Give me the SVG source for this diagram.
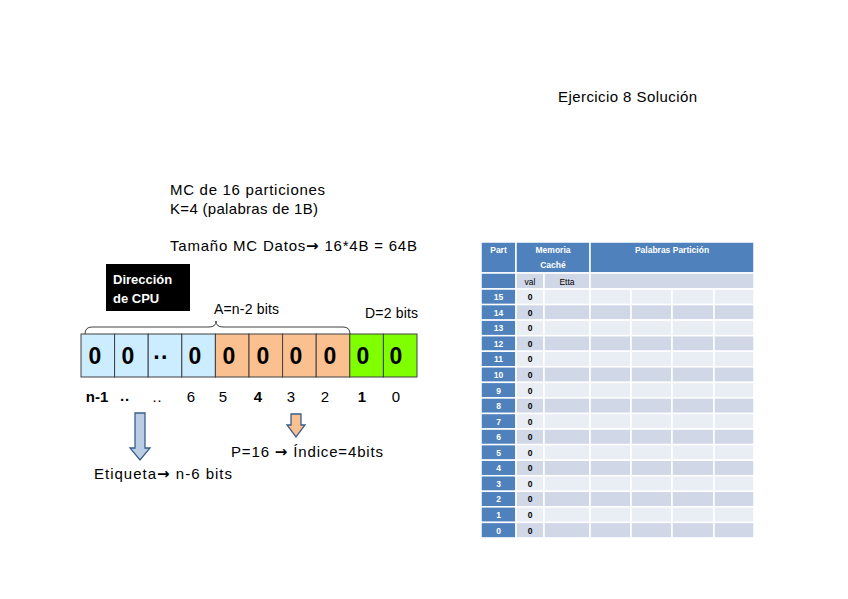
<svg xmlns="http://www.w3.org/2000/svg" xmlns:xlink="http://www.w3.org/1999/xlink" width="848" height="599" viewBox="0 0 848 599">
<style>
text{font-family:"Liberation Sans",Arial,sans-serif;fill:#000}
.t15{font-size:15px}
.t14{font-size:14px}
.b{font-weight:bold}
.arr{font-family:"DejaVu Sans",sans-serif;font-weight:bold}
.dig{font-size:23px;font-weight:bold;text-anchor:middle}
.bit{font-size:15px;text-anchor:middle}
.box{stroke:#404040;stroke-width:1}
.blue{fill:#CCECFF}
.org{fill:#FAC090}
.grn{fill:#80FF00}
.hd{fill:#4F81BD;stroke:#fff;stroke-width:1.5}
.L{fill:#E9EDF4;stroke:#fff;stroke-width:1.5}
.D{fill:#D0D8E8;stroke:#fff;stroke-width:1.5}
.ht{font-size:8.5px;font-weight:bold;fill:#fff;text-anchor:middle}
.rl{font-size:8.5px;font-weight:bold;fill:#fff;text-anchor:middle}
.rv{font-size:8.5px;font-weight:bold;text-anchor:middle}
.sh{font-size:8.5px;text-anchor:middle}
</style>
<defs>
<g id="rowL">
<rect class="hd" x="481" y="0" width="35" height="15.56"/>
<rect class="L" x="516" y="0" width="28" height="15.56"/>
<rect class="L" x="544" y="0" width="46" height="15.56"/>
<rect class="L" x="590" y="0" width="41" height="15.56"/>
<rect class="L" x="631" y="0" width="41" height="15.56"/>
<rect class="L" x="672" y="0" width="42" height="15.56"/>
<rect class="L" x="714" y="0" width="40" height="15.56"/>
</g>
<g id="rowD">
<rect class="hd" x="481" y="0" width="35" height="15.56"/>
<rect class="D" x="516" y="0" width="28" height="15.56"/>
<rect class="D" x="544" y="0" width="46" height="15.56"/>
<rect class="D" x="590" y="0" width="41" height="15.56"/>
<rect class="D" x="631" y="0" width="41" height="15.56"/>
<rect class="D" x="672" y="0" width="42" height="15.56"/>
<rect class="D" x="714" y="0" width="40" height="15.56"/>
</g>
</defs>
<rect width="848" height="599" fill="#fff"/>

<g id="title"><text class="t15" x="558" y="102" textLength="139">Ejercicio 8 Solución</text></g>

<g id="info">
<text class="t15" x="170" y="195" textLength="155">MC de 16 particiones</text>
<text class="t15" x="170" y="214" textLength="148">K=4 (palabras de 1B)</text>
<text class="t15" x="170" y="251" textLength="247">Tamaño MC Datos<tspan class="arr">→</tspan> 16*4B = 64B</text>
</g>

<g id="cpu-label">
<rect x="106" y="264" width="84" height="47" fill="#000"/>
<text class="b" x="113" y="284" style="font-size:13px;fill:#fff">Dirección</text>
<text class="b" x="113" y="303" style="font-size:13px;fill:#fff">de CPU</text>
</g>

<g id="brace-labels">
<path d="M85,334 Q85,327 92,327 L209,327 Q216,327 216,321 Q216,327 223,327 L343,327 Q350,327 350,334" fill="none" stroke="#404040" stroke-width="1"/>
<text class="t14" x="214" y="314" textLength="65">A=n-2 bits</text>
<text class="t14" x="365" y="318" textLength="53">D=2 bits</text>
</g>

<g id="address">
<rect class="box blue" x="81" y="334" width="33.6" height="43"/>
<rect class="box blue" x="114.6" y="334" width="33.6" height="43"/>
<rect class="box blue" x="148.2" y="334" width="33.6" height="43"/>
<rect class="box blue" x="181.8" y="334" width="33.6" height="43"/>
<rect class="box org" x="215.4" y="334" width="33.6" height="43"/>
<rect class="box org" x="249" y="334" width="33.6" height="43"/>
<rect class="box org" x="282.6" y="334" width="33.6" height="43"/>
<rect class="box org" x="316.2" y="334" width="33.6" height="43"/>
<rect class="box grn" x="349.8" y="334" width="33.6" height="43"/>
<rect class="box grn" x="383.4" y="334" width="33.6" height="43"/>
<text class="dig" x="95" y="364">0</text>
<text class="dig" x="128" y="364">0</text>
<text class="dig" x="161" y="365">··</text>
<text class="dig" x="195" y="364">0</text>
<text class="dig" x="229" y="364">0</text>
<text class="dig" x="263" y="364">0</text>
<text class="dig" x="296" y="364">0</text>
<text class="dig" x="330" y="364">0</text>
<text class="dig" x="363" y="364">0</text>
<text class="dig" x="396" y="364">0</text>
</g>

<g id="bits">
<text class="bit b" x="97" y="402">n-1</text>
<text class="bit b" x="125" y="405">··</text>
<text class="bit" x="157" y="405">··</text>
<text class="bit" x="191" y="402">6</text>
<text class="bit" x="223" y="402">5</text>
<text class="bit b" x="258" y="402">4</text>
<text class="bit" x="291" y="402">3</text>
<text class="bit" x="325" y="402">2</text>
<text class="bit b" x="362" y="402">1</text>
<text class="bit" x="396" y="402">0</text>
</g>

<g id="connectors">
<path d="M135,413 L145,413 L145,448 L150,448 L140,460 L130,448 L135,448 Z" fill="#B9CDE5" stroke="#385D8A" stroke-width="1.3"/>
<path d="M291,414 L301,414 L301,425 L305,425 L296,437 L287,425 L291,425 Z" fill="#FAC090" stroke="#385D8A" stroke-width="1.3"/>
</g>

<g id="tag-label"><text class="t15" x="94" y="479" textLength="138">Etiqueta<tspan class="arr">→</tspan> n-6 bits</text></g>
<g id="index-label"><text class="t15" x="231" y="457" textLength="152">P=16 <tspan class="arr">→</tspan> Índice=4bits</text></g>

<g id="cache-table">
<g id="table-header">
<rect class="hd" x="481" y="242" width="35" height="31"/>
<rect class="hd" x="516" y="242" width="74" height="31"/>
<rect class="hd" x="590" y="242" width="164" height="31"/>
<text class="ht" x="498.5" y="253">Part</text>
<text class="ht" x="553" y="253">Memoria</text>
<text class="ht" x="553" y="268">Caché</text>
<text class="ht" x="672" y="253">Palabras Partición</text>
<rect class="hd" x="481" y="273" width="35" height="16"/>
<rect class="D" x="516" y="273" width="28" height="16"/>
<rect class="D" x="544" y="273" width="46" height="16"/>
<rect class="D" x="590" y="273" width="164" height="16"/>
<text class="sh" x="530" y="284.5">val</text>
<text class="sh" x="567" y="284.5">Etta</text>
</g>
<g id="row15" transform="translate(0,289)"><use xlink:href="#rowL"/><text class="rl" x="498.5" y="11.2">15</text><text class="rv" x="530" y="11.2">0</text></g>
<g id="row14" transform="translate(0,304.56)"><use xlink:href="#rowD"/><text class="rl" x="498.5" y="11.2">14</text><text class="rv" x="530" y="11.2">0</text></g>
<g id="row13" transform="translate(0,320.12)"><use xlink:href="#rowL"/><text class="rl" x="498.5" y="11.2">13</text><text class="rv" x="530" y="11.2">0</text></g>
<g id="row12" transform="translate(0,335.68)"><use xlink:href="#rowD"/><text class="rl" x="498.5" y="11.2">12</text><text class="rv" x="530" y="11.2">0</text></g>
<g id="row11" transform="translate(0,351.24)"><use xlink:href="#rowL"/><text class="rl" x="498.5" y="11.2">11</text><text class="rv" x="530" y="11.2">0</text></g>
<g id="row10" transform="translate(0,366.8)"><use xlink:href="#rowD"/><text class="rl" x="498.5" y="11.2">10</text><text class="rv" x="530" y="11.2">0</text></g>
<g id="row9" transform="translate(0,382.36)"><use xlink:href="#rowL"/><text class="rl" x="498.5" y="11.2">9</text><text class="rv" x="530" y="11.2">0</text></g>
<g id="row8" transform="translate(0,397.92)"><use xlink:href="#rowD"/><text class="rl" x="498.5" y="11.2">8</text><text class="rv" x="530" y="11.2">0</text></g>
<g id="row7" transform="translate(0,413.48)"><use xlink:href="#rowL"/><text class="rl" x="498.5" y="11.2">7</text><text class="rv" x="530" y="11.2">0</text></g>
<g id="row6" transform="translate(0,429.04)"><use xlink:href="#rowD"/><text class="rl" x="498.5" y="11.2">6</text><text class="rv" x="530" y="11.2">0</text></g>
<g id="row5" transform="translate(0,444.6)"><use xlink:href="#rowL"/><text class="rl" x="498.5" y="11.2">5</text><text class="rv" x="530" y="11.2">0</text></g>
<g id="row4" transform="translate(0,460.16)"><use xlink:href="#rowD"/><text class="rl" x="498.5" y="11.2">4</text><text class="rv" x="530" y="11.2">0</text></g>
<g id="row3" transform="translate(0,475.72)"><use xlink:href="#rowL"/><text class="rl" x="498.5" y="11.2">3</text><text class="rv" x="530" y="11.2">0</text></g>
<g id="row2" transform="translate(0,491.28)"><use xlink:href="#rowD"/><text class="rl" x="498.5" y="11.2">2</text><text class="rv" x="530" y="11.2">0</text></g>
<g id="row1" transform="translate(0,506.84)"><use xlink:href="#rowL"/><text class="rl" x="498.5" y="11.2">1</text><text class="rv" x="530" y="11.2">0</text></g>
<g id="row0" transform="translate(0,522.4)"><use xlink:href="#rowD"/><text class="rl" x="498.5" y="11.2">0</text><text class="rv" x="530" y="11.2">0</text></g>
</g>
</svg>
